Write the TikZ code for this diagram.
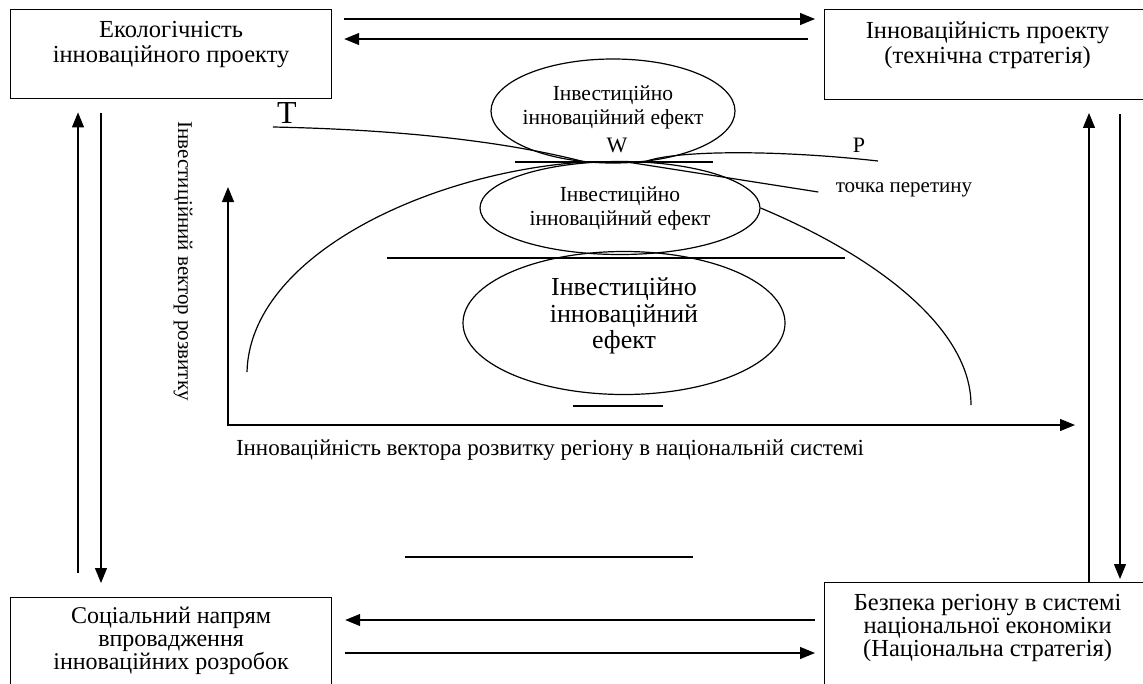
\documentclass[tikz,border=0pt]{standalone}
\usepackage{fontspec}
\setmainfont{Liberation Serif}
\usetikzlibrary{arrows.meta,calc,shapes.geometric}
\tikzset{
%Define standard arrow tip
>={Triangle[length=15pt,width=12pt]},
%Define styles for boxes, ellipses and lines
block/.style={draw, line width=1.2pt, minimum width=321pt, align=center, anchor=north west, inner xsep=0pt},
effect/.style={draw, ellipse, line width=1.2pt, inner sep=0pt, align=center},
link/.style={->, line width=1.2pt},
curve/.style={line width=1.2pt},
}

\begin{document}
\begin{tikzpicture}[x=1pt,y=-1pt]
\clip (0,0) rectangle (1143,683);
% Four corner blocks
\node[block, inner ysep=12pt, text depth=24pt, font=\fontsize{24.5}{25}\selectfont] (eco) at (10,9) {Екологічність\\інноваційного проекту};
\node[block, minimum width=326pt, inner ysep=12pt, text depth=24pt, font=\fontsize{24.5}{25}\selectfont] (inn) at (824,9) {Інноваційність проекту\\(технічна стратегія)};
\node[block, inner ysep=9pt, text depth=40pt, font=\fontsize{24}{23}\selectfont] (soc) at (10,597) {Соціальний напрям\\впровадження\\інноваційних розробок};
\node[block, minimum width=326pt, inner ysep=12pt, text depth=50pt, font=\fontsize{24.5}{20.5}\selectfont] (bez) at (824,582) {Безпека регіону в системі\\національної економіки\\(Національна стратегія)};
% Arrows between the blocks
\draw[link] ([shift={(12,10)}]eco.north east) -- ([shift={(-9,10)}]inn.north west);
\draw[link] ([shift={(-16,30)}]inn.north west) -- ([shift={(12,30)}]eco.north east);
\draw[link] ([shift={(68,-24)}]soc.north west) -- ([shift={(68,13)}]eco.south west);
\draw[link] ([shift={(91,14)}]eco.south west) -- ([shift={(91,-14)}]soc.north west);
\draw[link] ([shift={(265,0)}]bez.north west) -- ([shift={(265,13)}]inn.south west);
\draw[link] ([shift={(296,14)}]inn.south west) -- ([shift={(296,-3)}]bez.north west);
\draw[link] ([shift={(-9,38)}]bez.north west) -- ([shift={(13,23)}]soc.north east);
\draw[link] ([shift={(13,56)}]soc.north east) -- ([shift={(-9,71)}]bez.north west);
% Three effects
\node[effect, minimum width=244pt, minimum height=104pt, inner xsep=-10pt, text depth=12pt, font=\fontsize{21.5}{24}\selectfont] (eff1) at (613,111) {Інвестиційно\\інноваційний ефект};
\node[effect, minimum width=280pt, minimum height=93pt, font=\fontsize{21.5}{24}\selectfont] (eff2) at (620,208) {Інвестиційно\\інноваційний ефект};
\node[effect, minimum width=322pt, minimum height=143pt, text depth=19pt, font=\fontsize{26}{26.5}\selectfont] (eff3) at (624,323) {Інвестиційно\\інноваційний\\ефект};
% Point labels
\node[font=\fontsize{22}{24}\selectfont] (w) at (617,145) {W};
\node[font=\fontsize{22}{24}\selectfont] (p) at (859,145) {P};
\node[font=\fontsize{32}{34}\selectfont] (t) at (287,113) {T};
\node[font=\fontsize{21}{24}\selectfont, anchor=base] (tochka) at (904,192) {точка перетину};
% Curves through the intersection point
\draw[curve] (273,127) .. controls (420,130) and (520,145) .. (585,162);
\draw[curve] (647,161) .. controls (680,150) and (780,150) .. (878,161);
\draw[curve] (627,162) -- ([xshift=-14pt]tochka.base west);
\draw[curve] (247,372) .. controls (250,255) and (430,172) .. (585,162);
\draw[curve] (eff2.east) .. controls (880,258) and (971,330) .. (971,405);
% Level lines
\draw[curve] (515,162) -- (713,162);
\draw[curve] (387,258) -- (845,258);
\draw[curve] (573,406) -- (663,406);
\draw[curve] (405,557) -- (693,557);
% Axes
\coordinate (ytop) at (228,187);
\coordinate (xend) at (1075,425);
\draw[<->, line width=1.2pt] (ytop) |- (xend);
\node[rotate=-90, font=\fontsize{21}{24}\selectfont] (vlabel) at (183,261) {Інвестиційний вектор розвитку};
\node[anchor=base, font=\fontsize{23}{26}\selectfont] (hlabel) at (550,455) {Інноваційність вектора розвитку регіону в національній системі};
\end{tikzpicture}
\end{document}
